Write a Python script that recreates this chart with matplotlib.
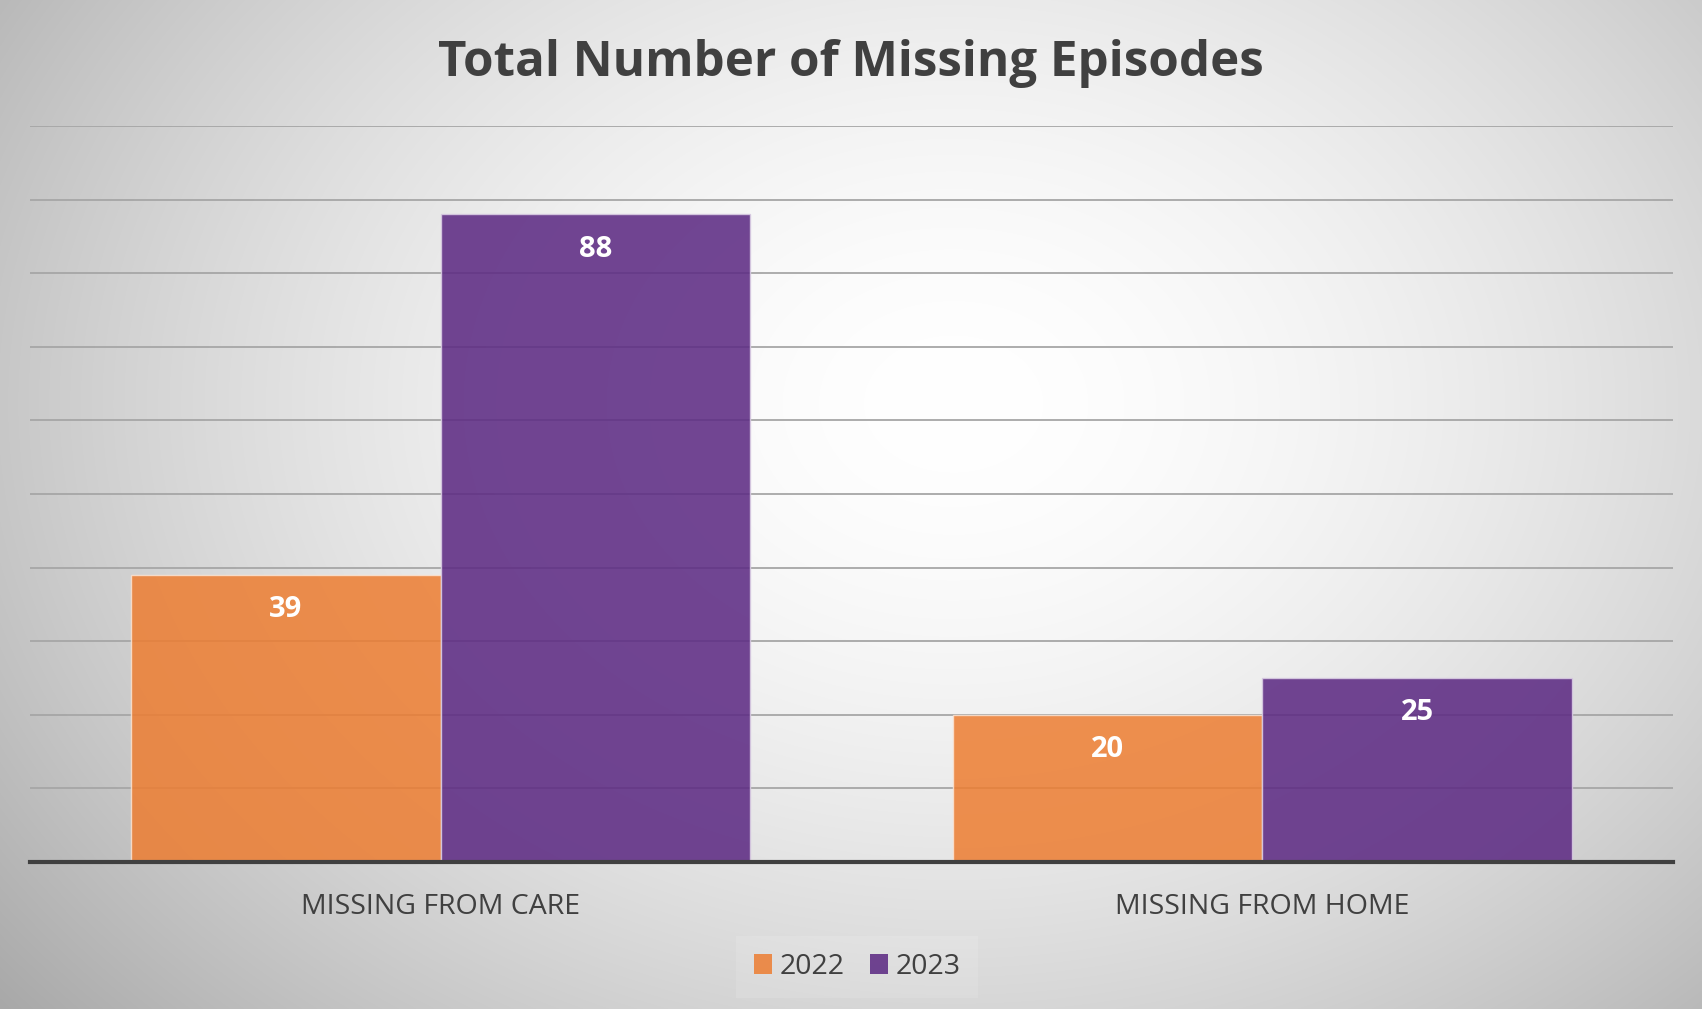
import numpy as np
import matplotlib
matplotlib.use("Agg")
import matplotlib.pyplot as plt
from matplotlib.patches import Patch

categories = ["MISSING FROM CARE", "MISSING FROM HOME"]
series_names = ["2022", "2023"]
values_2022 = [39, 20]
values_2023 = [88, 25]
colors = ["#ED7D31", "#5E2C84"]

W, H = 1702, 1009
fig = plt.figure(figsize=(W / 100, H / 100), dpi=100)

# radial gradient background
bg = fig.add_axes([0, 0, 1, 1])
yy, xx = np.mgrid[0:H, 0:W]
cx, cy = 0.56 * W, 0.40 * H
r = np.sqrt(((xx - cx) / (0.62 * W)) ** 2 + ((yy - cy) / (0.80 * H)) ** 2)
r = np.clip(r, 0, 1.2)
val = 1.0 - 0.26 * r ** 1.7
img = np.dstack([val, val, val])
bg.imshow(img, extent=[0, 1, 0, 1], aspect="auto", origin="upper")
bg.set_axis_off()

ax = fig.add_axes([30 / W, 147 / H, (1673 - 30) / W, (862 - 126) / H])
ax.set_facecolor("none")
x = np.arange(len(categories))
bw = 0.377
b1 = ax.bar(x - bw / 2, values_2022, bw, color=colors[0], alpha=0.85,
            edgecolor="#fbe3d2", linewidth=1.0, zorder=2)
b2 = ax.bar(x + bw / 2, values_2023, bw, color=colors[1], alpha=0.88,
            edgecolor="#d8cbe2", linewidth=1.0, zorder=2)

for bars, vals in ((b1, values_2022), (b2, values_2023)):
    for rect, v in zip(bars, vals):
        ax.annotate(str(v), (rect.get_x() + rect.get_width() / 2, v),
                    xytext=(0, -25), textcoords="offset points",
                    ha="center", va="center", color="white",
                    fontsize=21, fontweight="bold", family="Open Sans", zorder=3)

ax.set_xlim(-0.5, 1.5)
ax.set_ylim(0, 100)
ax.set_yticks(np.arange(0, 101, 10))
ax.yaxis.grid(True, color="#a6a6a6", linewidth=1.3, zorder=0)
ax.set_axisbelow(True)
ax.tick_params(axis="y", left=False, labelleft=False)
ax.tick_params(axis="x", bottom=False, pad=19)
ax.set_xticks(x)
ax.set_xticklabels(categories, fontsize=20.5, color="#404040", family="Open Sans")
for s in ("top", "right", "left"):
    ax.spines[s].set_visible(False)
ax.spines["bottom"].set_color("#404040")
ax.spines["bottom"].set_linewidth(3)
ax.spines["bottom"].set_zorder(4)

fig.text(0.5, 1 - 63 / H, "Total Number of Missing Episodes", ha="center", va="center",
         fontsize=35.5, fontweight="bold", color="#404040", family="Open Sans")

handles = [Patch(facecolor=colors[0], alpha=0.85), Patch(facecolor=colors[1], alpha=0.88)]
leg = fig.legend(handles, series_names, loc="center", bbox_to_anchor=(857 / W, 1 - 967 / H),
                 ncol=2, frameon=True, fontsize=20.5, handlelength=0.65, handleheight=0.65,
                 handletextpad=0.25, columnspacing=0.9, labelcolor="#404040",
                 fancybox=False, borderpad=0.6,
                 prop={"family": "Open Sans", "size": 20.5})
leg.get_frame().set_facecolor("white")
leg.get_frame().set_alpha(0.12)
leg.get_frame().set_edgecolor("none")

fig.savefig("out.png", dpi=100)
